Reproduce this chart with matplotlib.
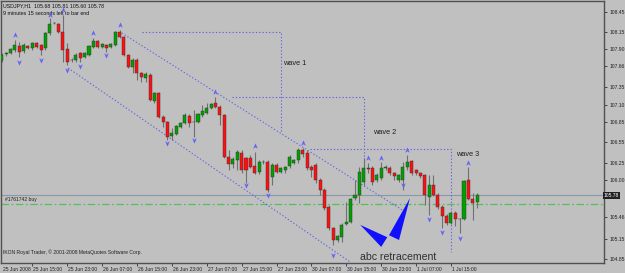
import matplotlib
matplotlib.use('Agg')
import matplotlib.pyplot as plt
from matplotlib.path import Path
import numpy as np

plt.rcParams['font.family'] = ['Liberation Sans', 'DejaVu Sans']

# ---------------- data ----------------
opens = [107.75, 107.83, 107.85, 107.89, 107.95, 107.88, 107.95, 107.92, 107.99, 107.97,
         107.92, 108.14, 108.28, 108.27, 108.15, 107.90, 107.75, 107.75, 107.85, 107.79,
         107.82, 107.94, 108.02, 107.94, 107.97, 107.94, 107.97, 108.15, 108.08, 107.82,
         107.65, 107.75, 107.56, 107.49, 107.53, 107.15, 107.27, 106.92, 106.85, 106.64,
         106.67, 106.77, 106.83, 106.93, 106.84, 106.85, 106.95, 106.98, 107.05, 107.12,
         107.06, 106.95, 106.34, 106.24, 106.29, 106.40, 106.32, 106.32, 106.21, 106.12,
         106.26, 106.27, 106.05, 106.22, 106.12, 106.15, 106.21, 106.25, 106.29, 106.44,
         106.39, 106.19, 106.22, 106.00, 105.86, 105.61, 105.31, 105.13, 105.18, 105.36,
         105.39, 105.74, 105.79, 105.97, 106.17, 106.18, 106.00, 106.03, 106.18, 106.18,
         106.10, 106.00, 106.00, 106.19, 106.28, 106.15, 106.10, 106.08, 105.76, 105.93,
         105.79, 105.61, 105.48, 105.38, 105.52, 105.44, 105.43, 106.00, 105.73, 105.68]
highs = [107.85, 107.86, 107.92, 108.04, 108.01, 107.99, 107.97, 108.01, 108.01, 107.98,
         108.16, 108.36, 108.30, 108.29, 108.40, 107.99, 107.78, 107.85, 107.86, 107.86,
         107.97, 108.07, 108.04, 107.99, 107.98, 107.99, 108.17, 108.18, 108.10, 107.84,
         107.78, 107.78, 107.57, 107.57, 107.56, 107.28, 107.28, 106.95, 106.86, 106.76,
         106.80, 106.85, 106.98, 106.96, 107.02, 106.98, 107.09, 107.12, 107.12, 107.21,
         107.09, 106.96, 106.44, 106.34, 106.44, 106.44, 106.34, 106.37, 106.41, 106.29,
         106.29, 106.29, 106.25, 106.25, 106.19, 106.21, 106.37, 106.31, 106.47, 106.47,
         106.44, 106.22, 106.25, 106.03, 105.89, 105.64, 105.32, 105.20, 105.38, 105.68,
         105.74, 106.00, 106.19, 106.32, 106.25, 106.21, 106.11, 106.27, 106.22, 106.21,
         106.12, 106.09, 106.26, 106.37, 106.29, 106.16, 106.12, 106.09, 106.08, 106.08,
         105.81, 105.64, 105.51, 105.55, 105.55, 105.45, 106.00, 106.19, 105.81, 105.81]
lows = [107.72, 107.81, 107.83, 107.86, 107.79, 107.85, 107.91, 107.89, 107.92, 107.82,
        107.89, 108.11, 108.27, 108.14, 107.72, 107.68, 107.72, 107.72, 107.72, 107.78,
        107.81, 107.92, 107.92, 107.92, 107.86, 107.92, 107.95, 108.07, 107.81, 107.63,
        107.56, 107.46, 107.43, 107.43, 107.15, 107.12, 106.91, 106.77, 106.59, 106.59,
        106.66, 106.76, 106.82, 106.77, 106.63, 106.83, 106.92, 106.96, 107.04, 107.05,
        106.80, 106.32, 106.15, 106.18, 106.15, 106.11, 105.96, 106.18, 106.09, 106.09,
        106.24, 105.83, 105.93, 106.10, 106.10, 106.10, 106.18, 106.24, 106.25, 106.34,
        106.15, 106.05, 105.96, 105.79, 105.57, 105.28, 105.06, 105.10, 105.10, 105.35,
        105.38, 105.71, 105.67, 105.93, 106.11, 105.93, 105.97, 106.00, 106.15, 106.08,
        106.00, 105.97, 105.86, 106.15, 106.08, 106.08, 106.03, 105.64, 105.49, 105.77,
        105.58, 105.31, 105.35, 105.36, 105.33, 105.23, 105.42, 105.71, 105.42, 105.60]
closes = [107.82, 107.85, 107.91, 107.97, 107.86, 107.97, 107.92, 107.99, 107.94, 107.89,
          108.14, 108.27, 108.29, 108.15, 107.89, 107.72, 107.74, 107.82, 107.78, 107.85,
          107.95, 108.02, 107.94, 107.98, 107.92, 107.98, 108.15, 108.08, 107.82, 107.65,
          107.75, 107.56, 107.50, 107.54, 107.17, 107.27, 106.92, 106.85, 106.63, 106.69,
          106.79, 106.83, 106.95, 106.83, 106.85, 106.96, 107.01, 107.05, 107.11, 107.06,
          106.95, 106.34, 106.24, 106.31, 106.41, 106.15, 106.15, 106.19, 106.10, 106.26,
          106.27, 105.86, 106.22, 106.12, 106.18, 106.19, 106.34, 106.29, 106.44, 106.38,
          106.18, 106.15, 106.00, 105.86, 105.60, 105.31, 105.13, 105.19, 105.35, 105.39,
          105.73, 105.79, 106.12, 106.18, 106.16, 105.97, 106.08, 106.18, 106.19, 106.10,
          106.06, 106.08, 106.19, 106.26, 106.10, 106.10, 106.06, 105.79, 105.93, 105.79,
          105.61, 105.48, 105.38, 105.52, 105.44, 105.43, 105.99, 105.73, 105.67, 105.78]

x_labels = ["25 Jun 2008", "25 Jun 15:00", "25 Jun 23:00", "26 Jun 07:00", "26 Jun 15:00",
            "26 Jun 23:00", "27 Jun 07:00", "27 Jun 15:00", "27 Jun 23:00", "30 Jun 07:00",
            "30 Jun 15:00", "30 Jun 23:00", "1 Jul 07:00", "1 Jul 15:00"]
x_label_bars = [-1, 7, 15, 23, 31, 39, 47, 55, 63, 71, 79, 87, 95, 103]
y_ticks = [108.45, 108.15, 107.90, 107.66, 107.35, 107.10, 106.85, 106.55,
           106.25, 106.00, 105.46, 105.15, 104.85]
bid_price = 105.78
order_price = 105.65
order_label = "#1761742 buy"

up_frac_bars = [3, 11, 14, 21, 27, 49, 58, 69, 84, 87, 93, 107]
up_frac_prices = [108.11, 108.40, 108.47, 108.14, 108.26, 107.28, 106.50, 106.54,
                  106.32, 106.32, 106.44, 106.25]
dn_frac_bars = [4, 9, 15, 18, 24, 38, 44, 56, 61, 76, 92, 98, 101, 105]
dn_frac_prices = [107.72, 107.75, 107.60, 107.66, 107.82, 106.54, 106.58, 105.93,
                  105.79, 104.91, 105.93, 105.44, 105.25, 105.16]

chan_upper_bars = [27.5, 92.5]
chan_upper_prices = [108.14, 105.54]
chan_lower_bars = [15.2, 79.9]
chan_lower_prices = [107.63, 104.81]

wave1_bars = [32.1, 64.0, 64.0]
wave1_prices = [108.16, 108.16, 106.68]
wave2_bars = [52.8, 83.1, 83.1]
wave2_prices = [107.21, 107.21, 105.92]
wave3_bars = [70.7, 103.0, 103.0]
wave3_prices = [106.45, 106.45, 104.96]

wave_texts = ["wave 1", "wave 2", "wave 3"]
wave_text_bars = [64.4, 85.1, 104.2]
wave_text_prices = [107.70, 106.69, 106.38]
abc_text = "abc retracement"
abc_bar, abc_price = 82.2, 104.88

tri1_bars = [82.2, 88.4, 87.0]
tri1_prices = [105.35, 105.17, 105.03]
tri2_bars = [93.6, 88.8, 91.1]
tri2_prices = [105.74, 105.20, 105.13]

header1 = "USDJPY,H1  105.68 105.81 105.60 105.78"
header2 = "9 minutes 15 seconds left to bar end"
copyright_text = "IKON Royal Trader, \u00a9 2001-2008 MetaQuotes Software Corp."

# ---------------- figure ----------------
W, H = 625, 273
BG = '#c0c0c0'
fig = plt.figure(figsize=(W / 100, H / 100), dpi=100)
fig.patch.set_facecolor(BG)
ax = fig.add_axes([1 / W, (H - 262.7) / H, 603 / W, 261.7 / H])
ax.set_facecolor(BG)

n = len(opens)
xs = np.arange(n)
ax.set_xlim(-0.18, 138.1)
ax.set_ylim(104.80, 108.605)

o = np.array(opens); h = np.array(highs); l = np.array(lows); c = np.array(closes)
up = c >= o
ax.vlines(xs, l, h, color='#707070', lw=0.8, zorder=2)
bw = 0.7
bot = np.minimum(o, c)
ht = np.maximum(np.abs(c - o), 0.006)
ax.bar(xs[up], ht[up], bottom=bot[up], width=bw, color='#00a000',
       edgecolor='#303030', lw=0.3, zorder=3)
ax.bar(xs[~up], ht[~up], bottom=bot[~up], width=bw, color='#ff1010',
       edgecolor='#303030', lw=0.3, zorder=3)

# lines
ax.axhline(bid_price, color='#8b98aa', lw=0.8, zorder=1)
ax.axhline(order_price, color='#55c055', lw=0.9, ls=(0, (6, 2, 1.5, 2)), zorder=1)
ax.text(0.8, order_price + 0.035, order_label, fontsize=3.6, color='#202020',
        va='bottom', ha='left')

dot = (0, (1.2, 1.8))
lc = '#6464e6'
ax.plot(chan_upper_bars, chan_upper_prices, color=lc, lw=0.8, ls=dot, zorder=1)
ax.plot(chan_lower_bars, chan_lower_prices, color=lc, lw=0.8, ls=dot, zorder=1)
for bx, py in [(wave1_bars, wave1_prices), (wave2_bars, wave2_prices),
               (wave3_bars, wave3_prices)]:
    ax.plot(bx, py, color=lc, lw=0.8, ls=dot, zorder=1)

for t, bx, py in zip(wave_texts, wave_text_bars, wave_text_prices):
    ax.text(bx, py, t, fontsize=5.3, color='#202020', ha='left', va='center')
ax.text(abc_bar, abc_price, abc_text, fontsize=7.6, color='#303030', ha='left',
        va='center')

ax.fill(tri1_bars, tri1_prices, color='#1010ff', lw=0, zorder=4)
ax.fill(tri2_bars, tri2_prices, color='#1010ff', lw=0, zorder=4)

# fractal arrow markers
uparrow = Path([(0, 1), (0.7, -0.7), (0, -0.15), (-0.7, -0.7), (0, 1)],
               [Path.MOVETO, Path.LINETO, Path.LINETO, Path.LINETO, Path.CLOSEPOLY])
dnarrow = Path([(0, -1), (0.7, 0.7), (0, 0.15), (-0.7, 0.7), (0, -1)],
               [Path.MOVETO, Path.LINETO, Path.LINETO, Path.LINETO, Path.CLOSEPOLY])
ac = '#6262f8'
ax.plot(up_frac_bars, up_frac_prices, ls='none', marker=uparrow, ms=3.8,
        color=ac, mec=ac, mew=0.3, zorder=5)
ax.plot(dn_frac_bars, dn_frac_prices, ls='none', marker=dnarrow, ms=3.8,
        color=ac, mec=ac, mew=0.3, zorder=5)

# spines
for s in ax.spines.values():
    s.set_color('#505050')
    s.set_linewidth(1.0)

# y axis on right
ax.yaxis.tick_right()
ax.set_yticks(y_ticks)
ax.set_yticklabels([f"{v:.2f}" for v in y_ticks])
ax.tick_params(axis='y', length=2.5, width=0.6, color='#303030', labelsize=3.6,
               pad=1.5, labelcolor='#202020')
ax.text(1.0, bid_price, f"{bid_price:.2f}", transform=ax.get_yaxis_transform(),
        fontsize=3.6, color='white', ha='left', va='center',
        bbox=dict(boxstyle='square,pad=0.15', fc='#202020', ec='none'))

# x axis labels (left aligned after tick)
ax.set_xticks([b for b in x_label_bars if b >= 0])
ax.set_xticklabels([])
ax.tick_params(axis='x', length=2.5, width=0.6, color='#303030')
for lab, b in zip(x_labels, x_label_bars):
    xb = max(b, -0.05)
    ax.text(xb + 0.25, -0.018, lab, transform=ax.get_xaxis_transform(),
            fontsize=3.6, color='#202020', ha='left', va='top', clip_on=False)

# header texts
ax.text(0.004, 0.992, header1, transform=ax.transAxes, fontsize=3.8,
        color='#101010', ha='left', va='top')
ax.text(0.004, 0.962, header2, transform=ax.transAxes, fontsize=3.8,
        color='#101010', ha='left', va='top')
ax.text(0.004, 0.041, copyright_text, transform=ax.transAxes, fontsize=3.6,
        color='#202020', ha='left', va='center')

fig.savefig('out.png', dpi=100, facecolor=BG)
